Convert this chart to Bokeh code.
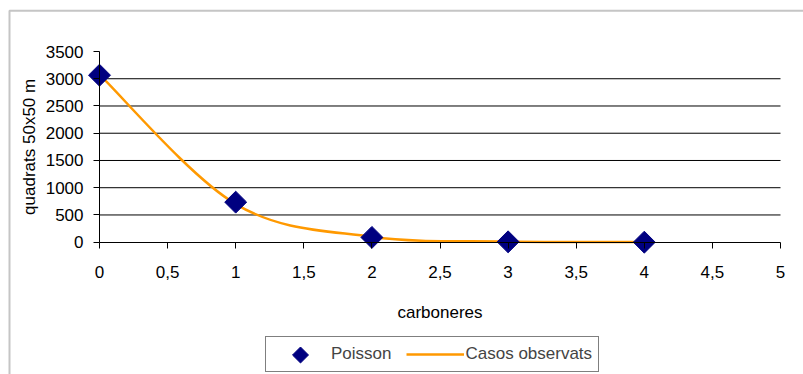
import numpy as np
from bokeh.plotting import figure
from bokeh.models import (Range1d, FixedTicker, Legend, LegendItem, Label,
                          BoxAnnotation)
from bokeh.embed import file_html
from bokeh.resources import INLINE

# ---------------- data ----------------
carboneres = [0, 1, 2, 3, 4]
poisson = [3065, 735, 88, 7, 0.4]
casos_observats = [3075, 700, 100, 12, 2]

x_ticks = [0, 0.5, 1, 1.5, 2, 2.5, 3, 3.5, 4, 4.5, 5]
x_tick_labels = ["0", "0,5", "1", "1,5", "2", "2,5", "3", "3,5", "4", "4,5", "5"]
y_ticks = [0, 500, 1000, 1500, 2000, 2500, 3000, 3500]
y_grid = [500, 1000, 1500, 2000, 2500, 3000]

# ---------------- layout (pixels) ----------------
FONT = "Liberation Sans"
FS = "17px"
W, H = 803, 374
X_MIN, X_MAX = 0, 5
Y_MIN, Y_MAX = 0, 3500
AX_X0, AX_X5 = 99, 780          # pixel of x=0 / x=5
AX_Y0, AX_YT = 241.7, 51        # pixel of y=0 / y=3500

ppx = (AX_X5 - AX_X0) / (X_MAX - X_MIN)
ppy = (AX_Y0 - AX_YT) / (Y_MAX - Y_MIN)


def px_to_x(px):
    return X_MIN + (px - AX_X0) / ppx


def py_to_y(py):
    return Y_MIN + (AX_Y0 - py) / ppy


# the frame covers the whole canvas; axes sit at x=0 / y=0
p = figure(width=W, height=H, output_backend="svg", toolbar_location=None,
           x_range=Range1d(px_to_x(0), px_to_x(W)),
           y_range=Range1d(py_to_y(H), py_to_y(0)),
           min_border=0, min_border_left=0, min_border_right=0,
           min_border_top=0, min_border_bottom=0)
p.outline_line_color = None
p.background_fill_color = "white"
p.border_fill_color = "white"
p.xgrid.visible = False
p.ygrid.visible = False

# horizontal grid lines from x=0 to x=5
p.segment(x0=[X_MIN] * len(y_grid), x1=[X_MAX] * len(y_grid), y0=y_grid, y1=y_grid,
          line_color="black", line_width=1)

for ax in (p.xaxis[0], p.yaxis[0]):
    ax.fixed_location = 0
    ax.axis_line_color = "black"
    ax.axis_line_width = 1
    ax.major_tick_line_color = "black"
    ax.major_tick_out = 6
    ax.major_tick_in = 0
    ax.minor_tick_line_color = None
    ax.major_label_text_font = FONT
    ax.major_label_text_font_size = FS
    ax.major_label_text_color = "black"

xa = p.xaxis[0]
xa.bounds = (X_MIN, X_MAX)
xa.ticker = FixedTicker(ticks=x_ticks)
xa.major_label_overrides = {t: l for t, l in zip(x_ticks, x_tick_labels)}
xa.major_label_standoff = 18

ya = p.yaxis[0]
ya.bounds = (Y_MIN, Y_MAX)
ya.ticker = FixedTicker(ticks=y_ticks)
ya.major_label_standoff = 10

# smoothed observed line (Catmull-Rom -> cubic Bezier, spreadsheet-style smoothing)
xs = np.array(carboneres, dtype=float)
ys = np.array(casos_observats, dtype=float)
n = len(xs)
x0, y0, x1, y1, cx0, cy0, cx1, cy1 = [], [], [], [], [], [], [], []
for i in range(n - 1):
    im1 = max(i - 1, 0)
    ip2 = min(i + 2, n - 1)
    x0.append(xs[i]); y0.append(ys[i])
    x1.append(xs[i + 1]); y1.append(ys[i + 1])
    cx0.append(xs[i] + (xs[i + 1] - xs[im1]) / 6)
    cy0.append(ys[i] + (ys[i + 1] - ys[im1]) / 6)
    cx1.append(xs[i + 1] - (xs[ip2] - xs[i]) / 6)
    cy1.append(ys[i + 1] - (ys[ip2] - ys[i]) / 6)
ORANGE = "#FF9900"
curve = p.bezier(x0=x0, y0=y0, x1=x1, y1=y1, cx0=cx0, cy0=cy0, cx1=cx1, cy1=cy1,
                 line_color=ORANGE, line_width=2.5)

NAVY = "#000080"
pts = p.scatter(x=carboneres, y=poisson, marker="square", angle=np.pi / 4, size=15.5,
                fill_color=NAVY, line_color=NAVY)
# invisible twin of the Poisson markers, used for the legend entry
pts_key = p.scatter(x=carboneres, y=poisson, marker="square", size=1,
                    fill_alpha=0, line_alpha=0)

# axis titles
XT_PX, YT_PX = 311.5, 29        # pixel centre of x title (y) / y title (x)
p.add_layout(Label(x=(X_MIN + X_MAX) / 2, y=py_to_y(XT_PX),
                   text="carboneres", text_align="center", text_baseline="middle",
                   text_font=FONT, text_font_size=FS, text_color="black"))
p.add_layout(Label(x=px_to_x(YT_PX), y=(Y_MIN + Y_MAX) / 2,
                   text="quadrats 50x50 m", angle=np.pi / 2,
                   text_align="center", text_baseline="middle",
                   text_font=FONT, text_font_size=FS, text_color="black"))

# legend (bottom-left corner in pixels)
LEG_LEFT, LEG_TOP, LEG_BOTTOM = 265, 337.3, 371.7
PAD, GW = 6, 58
legend = Legend(items=[LegendItem(label="Poisson", renderers=[pts_key]),
                       LegendItem(label="Casos observats", renderers=[curve])],
                orientation="horizontal", location=(LEG_LEFT, H - LEG_BOTTOM),
                margin=0, padding=PAD, spacing=15, glyph_width=GW, glyph_height=22,
                label_height=22, label_standoff=1,
                label_text_font=FONT, label_text_font_size=FS,
                border_line_color="black", border_line_width=1,
                background_fill_alpha=0)
p.add_layout(legend, "center")
# diamond key of the legend (rotated square, like the plotted markers)
p.scatter(x=[px_to_x(LEG_LEFT + PAD + GW / 2)], y=[py_to_y((LEG_TOP + LEG_BOTTOM) / 2)],
          marker="square", angle=np.pi / 4, size=11.3,
          fill_color=NAVY, line_color=NAVY)

# outer chart border (only its left and top edges are inside the picture)
p.add_layout(BoxAnnotation(left=9, right=W + 40, top=10.3, bottom=H + 40,
                           left_units="canvas", right_units="canvas",
                           top_units="canvas", bottom_units="canvas",
                           fill_alpha=0, line_color="#404040", line_width=2))

open("out.html", "w").write(file_html(p, INLINE))
